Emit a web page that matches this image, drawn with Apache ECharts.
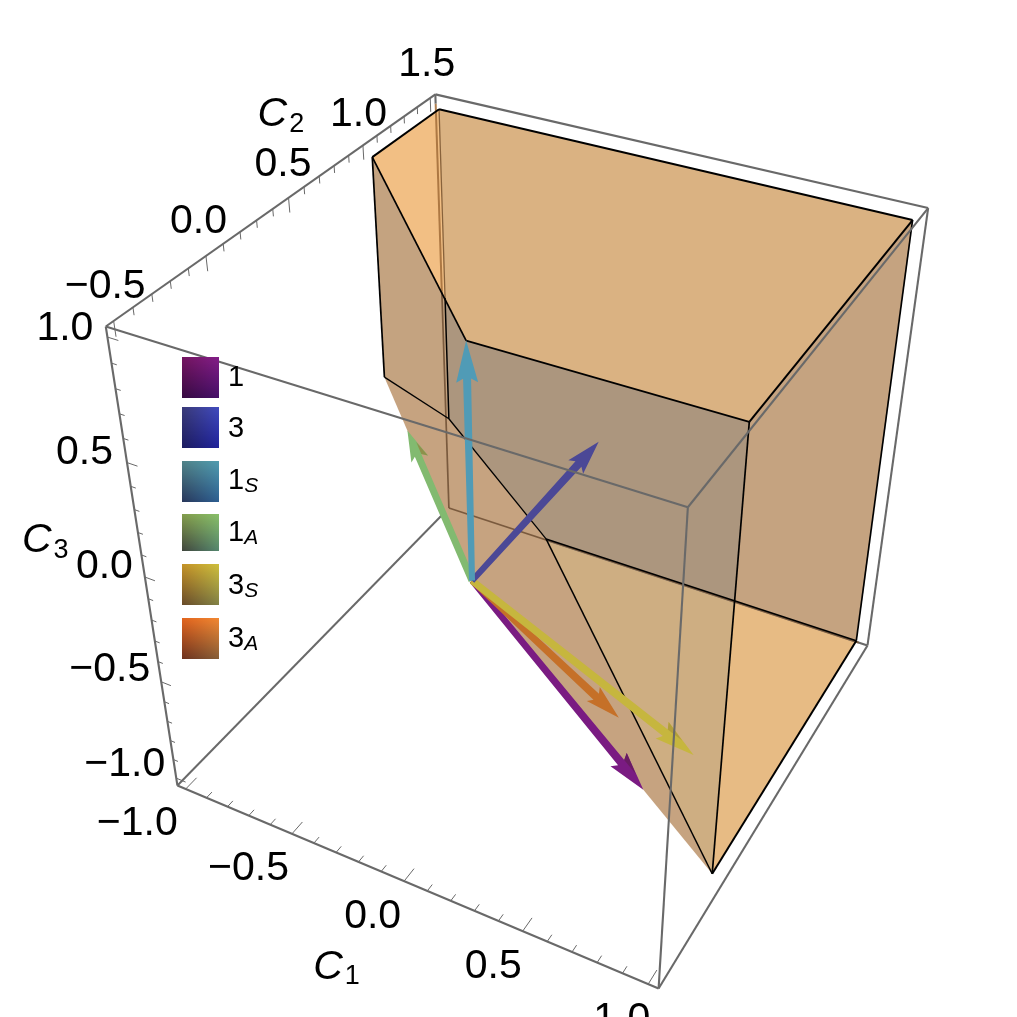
<!DOCTYPE html><html><head><meta charset="utf-8"><script src="https://cdn.jsdelivr.net/npm/echarts@6/dist/echarts.min.js"></script></head><body style="margin:0;background:#fff"><div id="c" style="width:1017px;height:1017px"></div><script>
// ---------- data (C1, C2, C3) ----------
var origin=[0,0,0];
var legendNames=['1','3','1S','1A','3S','3A'];
var vector1=[0.707,0,-0.707];
var vector3=[0,1,0];
var vector1S=[0,0,1];
var vector1A=[-0.707,0.707,0];
var vector3S=[0.894,0,-0.447];
var vector3A=[0.408,0.408,-0.816];
var P1=[-1,1,1],P2=[-1,1.5,1],P3=[1,1.5,1],P4=[1,0,1],P5=[0,0,1],P6=[-1,1,0],K=[-1,1.5,-0.5],L=[-0.5,1.5,-1],P8=[1,1.5,-1],P9=[1,0,-1],X=[-1,1.5,0.125];
var c1Ticks=[-1,-0.5,0,0.5,1], c2Ticks=[-0.5,0,0.5,1,1.5], c3Ticks=[1,0.5,0,-0.5,-1];
var c1Labels=['\u22121.0','\u22120.5','0.0','0.5','1.0'];
var c2Labels=['\u22120.5','0.0','0.5','1.0','1.5'];
var c3Labels=['1.0','0.5','0.0','\u22120.5','\u22121.0'];
var rangeC1=[-1.04,1.04], rangeC2=[-0.54,1.54], rangeC3=[-1.04,1.04];
// ---------- camera calibration: box corners on the page ----------
var a0=rangeC1[0],a1=rangeC1[1],b0=rangeC2[0],b1=rangeC2[1],c0=rangeC3[0],c1=rangeC3[1];
var cam=[[[a0,b0,c1],[106,326]],[[a0,b0,c0],[177.5,786.5]],[[a1,b0,c0],[659,988]],[[a1,b0,c1],[687,507]],[[a0,b1,c1],[435,95]],[[a1,b1,c1],[929,208]],[[a1,b1,c0],[867,646]],[[a0,b1,c0],[449,507]]];
function solve(A,b){var n=b.length,i,r,c;for(i=0;i<n;i++){var p=i;for(r=i;r<n;r++)if(Math.abs(A[r][i])>Math.abs(A[p][i]))p=r;var t=A[i];A[i]=A[p];A[p]=t;t=b[i];b[i]=b[p];b[p]=t;for(r=i+1;r<n;r++){var f=A[r][i]/A[i][i];for(c=i;c<n;c++)A[r][c]-=f*A[i][c];b[r]-=f*b[i];}}var x=[];for(i=n-1;i>=0;i--){var s=b[i];for(c=i+1;c<n;c++)s-=A[i][c]*x[c];x[i]=s/A[i][i];}return x;}
var Rw=[],Yw=[];cam.forEach(function(k){var Q=k[0],u=k[1][0]/1000,v=k[1][1]/1000;Rw.push([Q[0],Q[1],Q[2],1,0,0,0,0,-u*Q[0],-u*Q[1],-u*Q[2]]);Yw.push(u);Rw.push([0,0,0,0,Q[0],Q[1],Q[2],1,-v*Q[0],-v*Q[1],-v*Q[2]]);Yw.push(v);});
var NN=[],BB=[];for(var i=0;i<11;i++){NN.push([]);var s=0;for(var k=0;k<Rw.length;k++)s+=Rw[k][i]*Yw[k];BB.push(s);for(var j=0;j<11;j++){s=0;for(k=0;k<Rw.length;k++)s+=Rw[k][i]*Rw[k][j];NN[i].push(s);}}
var m=solve(NN,BB);
function proj(p){var w=m[8]*p[0]+m[9]*p[1]+m[10]*p[2]+1;return [1000*(m[0]*p[0]+m[1]*p[1]+m[2]*p[2]+m[3])/w,1000*(m[4]*p[0]+m[5]*p[1]+m[6]*p[2]+m[7])/w];}
// ---------- faces / edges ----------
var backFaces=[
 {pts:[P1,P2,K,P6],fill:'rgb(228,176,125)'},
 {pts:[P2,P3,P8,L,K],fill:'rgb(180,150,120)'},
 {pts:[L,P8,P9],fill:'rgb(248,198,128)'}];
var coneFace=[{pts:[P6,K,L,P9,origin],fill:'rgb(198,163,128)'}];
var frontFaces=[
 {pts:[P1,P2,P3,P4,P5],fill:'rgba(255,206,140,.5)'},
 {pts:[P1,P5,P4,P9,L,K,P6],fill:'rgba(163,150,132,.5)'},
 {pts:[P3,P4,P9,P8],fill:'rgba(214,176,136,.5)'}];
var E=[a0,b1,c1],F=[a1,b1,c1],G=[a1,b1,c0],H=[a0,b1,c0],A=[a0,b0,c1],B=[a0,b0,c0],C=[a1,b0,c0],D=[a1,b0,c1];
var GRAY='rgb(105,105,105)';
var hiddenBox=[[H,G,GRAY,2],[H,B,GRAY,2]];
var seenThrough=[
 [[a0,b1,1.0],[a0,b1,0.125],'rgba(165,112,60,.9)',2],
 [[a0,b1,0.125],H,'rgba(118,86,58,.95)',1.7],
 [H,[1.0,b1,c0],'rgba(118,86,58,.95)',1.8],
 [P2,X,'rgba(125,88,50,.9)',1.3]];
var edges=[[P1,P2,2],[P2,P3,2],[P3,P4,2],[P1,P5,1.7],[P5,P4,1.7],[P4,P9,1.7],[P3,P8,1.7],[P8,P9,2],[P1,P6,1.7],[P6,K,1.3],[K,L,1.3],[L,P9,1.5],[L,P8,1.5],[X,K,1.5]];
var boxEdges=[[E,F],[F,G],[G,C],[C,B],[B,A],[A,E],[A,D],[D,F],[D,C],[E,[a0,b1,1.0]]];
// ---------- arrows: tail width, neck width, head length, head width ----------
var arrows=[
 {v:vector1,c:'rgb(122,27,130)',w0:6,w1:8,hl:39,hw:21,patch:'rgb(104,28,98)',side:-1},
 {v:vector3A,c:'rgb(197,112,40)',w0:6,w1:8,hl:35,hw:19},
 {v:vector3S,c:'rgb(198,182,62)',w0:7,w1:8,hl:40,hw:21,patch:'rgb(178,158,60)',side:-1},
 {v:vector1A,c:'rgb(130,186,112)',w0:7,w1:7,hl:31,hw:18,patch:'rgb(142,145,75)',side:1},
 {v:vector3,c:'rgb(75,72,150)',w0:6,w1:8,hl:34,hw:20},
 {v:vector1S,c:'rgb(80,155,182)',w0:6,w1:8,hl:42,hw:22}];
// ---------- legend swatches: TL, TR, BL, BR ----------
var swatchRows=[[357,41],[407,41],[461,41],[514,37],[564,41],[618,41]];
var swatchCols=[
 [[115,20,95],[130,30,135],[55,10,65],[70,15,105]],
 [[58,58,120],[65,75,190],[28,28,95],[32,35,155]],
 [[80,130,135],[80,155,175],[40,55,90],[45,95,145]],
 [[130,155,75],[135,190,105],[65,70,60],[85,135,110]],
 [[195,145,40],[205,190,60],[105,75,40],[130,130,70]],
 [[225,100,30],[240,135,50],[110,50,30],[135,95,55]]];
var legendY=[378,429,481,533,586,639];
// ---------- tick label nudges ----------
var c1Nudge=[[-8,35],[-3,35],[-3,36],[-1,36],[2,36]];
var c2Nudge=[[32,-34],[21,-34],[23,-33],[24,-31],[25,-33]];
var c3Nudge=[[-14,-8],[-14,-10],[-12,-10],[-11,-12],[-11,-13]];
var FONT='"Liberation Sans",Arial,sans-serif';
var tickSegs=[];
function addTicks(from,to,stepMajor,mk,dirAxis,major,minor){var n=Math.round((to-from)*10);for(var t=0;t<=n;t++){var val=from+t/10;var isM=t%5==0;var st=mk(val);var en=st.slice();en[dirAxis]+=(dirAxis==2?-1:1)*(isM?major:minor);tickSegs.push([st,en]);}}
addTicks(-1,1,.5,function(v){return [v,b0,c0];},1,.07,.035);
addTicks(-0.5,1.5,.5,function(v){return [a0,v,c1];},2,.06,.03);
addTicks(-1,1,.5,function(v){return [a0,b0,v];},0,.045,.022);
function poly(api,pts,style){return {type:'polygon',shape:{points:pts.map(function(p){return api.coord(proj(p));})},style:style};}
function seg(api,a,b,stroke,w){var p=api.coord(proj(a)),q=api.coord(proj(b));return {type:'line',shape:{x1:p[0],y1:p[1],x2:q[0],y2:q[1]},style:{stroke:stroke,lineWidth:w}};}
function mix(a,b,t){return [a[0]+(b[0]-a[0])*t,a[1]+(b[1]-a[1])*t,a[2]+(b[2]-a[2])*t];}
function rgb(c){return 'rgb('+c.map(Math.round).join(',')+')';}
var series=[];
function layer(name,list,fn){series.push({type:'custom',name:name,coordinateSystem:'cartesian2d',silent:true,clip:false,animation:false,z:series.length+2,data:list.map(function(_,i){return [i];}),renderItem:function(p,api){var i=api.value(0);return fn(list[i],api,i);}});}
function faceFn(f,api){return poly(api,f.pts,{fill:f.fill});}
layer('back faces',backFaces,faceFn);
layer('hidden box',hiddenBox,function(e,api){return seg(api,e[0],e[1],e[2],e[3]);});
layer('cone',coneFace,faceFn);
layer('front faces',frontFaces,faceFn);
layer('see-through',seenThrough,function(e,api){return seg(api,e[0],e[1],e[2],e[3]);});
layer('edges',edges,function(e,api){return seg(api,e[0],e[1],'#000',e[2]);});
layer('arrows',arrows,function(a,api){
 var o=api.coord(proj(origin)),t=api.coord(proj(a.v));var dx=t[0]-o[0],dy=t[1]-o[1],l=Math.hypot(dx,dy);dx/=l;dy/=l;var nx=-dy,ny=dx;
 var at=function(d,w){return [t[0]-dx*d+nx*w,t[1]-dy*d+ny*w];};
 var pts=[[o[0]+nx*a.w0/2,o[1]+ny*a.w0/2],at(a.hl-4,a.w1/2),at(a.hl,a.hw/2),t,at(a.hl,-a.hw/2),at(a.hl-4,-a.w1/2),[o[0]-nx*a.w0/2,o[1]-ny*a.w0/2]];
 var ch=[{type:'polygon',shape:{points:pts},style:{fill:a.c}}];
 if(a.patch){ch.push({type:'polygon',shape:{points:[at(a.hl,a.side*a.hw/2),at(a.hl*0.45,a.side*a.hw*0.2),at(a.hl-4,a.side*a.w1/2)]},style:{fill:a.patch}});}
 return {type:'group',children:ch};});
layer('ticks',tickSegs,function(e,api){return seg(api,e[0],e[1],'rgb(105,105,105)',1);});
layer('box',boxEdges,function(e,api){return seg(api,e[0],e[1],GRAY,2.1);});
function tickText(list,labels,mk,nudge){var out=[];list.forEach(function(v,i){out.push({p:mk(v),t:labels[i],n:nudge[i]});});return out;}
var tickLabels=[].concat(tickText(c1Ticks,c1Labels,function(v){return [v,b0,c0];},c1Nudge),tickText(c2Ticks,c2Labels,function(v){return [a0,v,c1];},c2Nudge),tickText(c3Ticks,c3Labels,function(v){return [a0,b0,v];},c3Nudge));
layer('tick labels',tickLabels,function(d,api){var p=api.coord(proj(d.p));return {type:'text',style:{x:p[0]+d.n[0],y:p[1]+d.n[1],text:d.t,fontFamily:FONT,fontSize:41,fill:'#000',align:'right',verticalAlign:'middle'}};});
var axisTitles=[{sub:'1',p:[0,b0,c0],o:[-91,86]},{sub:'2',p:[a0,0.5,c1],o:[-31,-83]},{sub:'3',p:[a0,b0,0],o:[-123,-36]}];
layer('axis titles',axisTitles,function(d,api){var p=api.coord(proj(d.p));return {type:'text',style:{x:p[0]+d.o[0],y:p[1]+d.o[1],text:'{c|C}{s|'+d.sub+'}',align:'left',verticalAlign:'middle',rich:{c:{fontFamily:FONT,fontStyle:'italic',fontSize:41,lineHeight:46,fill:'#000'},s:{fontFamily:FONT,fontSize:27,lineHeight:27,verticalAlign:'bottom',fill:'#000',padding:[0,0,0,2]}}}};});
layer('legend',legendNames,function(name,api,i){
 var r=swatchRows[i],c=swatchCols[i],ch=[],x0=182,w=37;
 for(var y=0;y<r[1];y++){var t=y/(r[1]-1);ch.push({type:'rect',shape:{x:x0,y:r[0]+y,width:w,height:1},style:{fill:new echarts.graphic.LinearGradient(0,0,1,0,[{offset:0,color:rgb(mix(c[0],c[2],t))},{offset:1,color:rgb(mix(c[1],c[3],t))}])}});}
 var txt=name.length>1?'{b|'+name[0]+'}{s|'+name[1]+'}':'{b|'+name+'}';
 ch.push({type:'text',style:{x:228,y:legendY[i],text:txt,align:'left',verticalAlign:'middle',rich:{b:{fontFamily:FONT,fontSize:29,lineHeight:32,fill:'#000'},s:{fontFamily:FONT,fontStyle:'italic',fontSize:21,lineHeight:21,verticalAlign:'bottom',fill:'#000'}}}});
 return {type:'group',children:ch};});
var chart=echarts.init(document.getElementById('c'),null,{renderer:'canvas'});
chart.setOption({animation:false,backgroundColor:'#fff',grid:{left:0,right:0,top:0,bottom:0},
 xAxis:{type:'value',min:0,max:1017,show:false},yAxis:{type:'value',min:0,max:1017,inverse:true,show:false},series:series});
</script></body></html>
